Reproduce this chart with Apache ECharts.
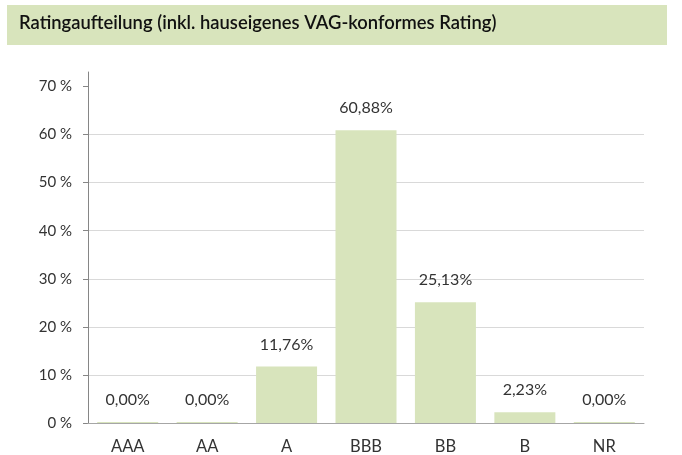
<!DOCTYPE html>
<html>
<head>
<meta charset="utf-8">
<script src="https://cdn.jsdelivr.net/npm/echarts@6/dist/echarts.min.js"></script>
<style>
  html, body { margin: 0; padding: 0; background: #ffffff; }
  #chart { width: 682px; height: 455px; }
</style>
</head>
<body>
<div id="chart"></div>
<script>
// Rating categories and their share of the portfolio (percent)
const categories = ['AAA', 'AA', 'A', 'BBB', 'BB', 'B', 'NR'];
const shares = [0.00, 0.00, 11.76, 60.88, 25.13, 2.23, 0.00];
const yTicks = [0, 10, 20, 30, 40, 50, 60, 70];
const titleText = 'Ratingaufteilung (inkl. hauseigenes VAG-konformes Rating)';

const FONT = 'Lato, "Open Sans", sans-serif';
const GREEN = '#d8e4bc';

const chart = echarts.init(document.getElementById('chart'), null, { renderer: 'canvas' });

chart.setOption({
  backgroundColor: '#ffffff',
  animation: false,
  graphic: [
    {
      type: 'rect',
      left: 7, top: 5,
      shape: { width: 660, height: 40 },
      style: { fill: GREEN },
      z: 0
    },
    {
      type: 'text',
      left: 19, top: 14,
      style: {
        text: titleText,
        font: '600 18.4px ' + FONT,
        fill: '#111111'
      },
      z: 1
    }
  ],
  grid: { left: 88, right: 38, top: 72, bottom: 31, containLabel: false },
  xAxis: {
    type: 'category',
    data: categories,
    axisLine: { show: true, lineStyle: { color: '#a6a6a6', width: 1 } },
    axisTick: { show: false },
    axisLabel: { color: '#333333', fontFamily: FONT, fontSize: 16.5, margin: 15 },
    z: 3
  },
  yAxis: {
    type: 'value',
    min: 0,
    max: 73,
    interval: 10,
    axisLine: { show: true, lineStyle: { color: '#868686', width: 1 } },
    axisTick: { show: true, length: 5, customValues: yTicks, lineStyle: { color: '#868686' } },
    axisLabel: {
      customValues: yTicks,
      color: '#333333',
      fontFamily: FONT,
      fontSize: 15,
      margin: 16,
      formatter: v => v + ' %'
    },
    splitLine: { show: true, showMaxLine: false, lineStyle: { color: '#d9d9d9', width: 1 } }
  },
  series: [
    {
      type: 'bar',
      data: shares,
      barWidth: 61,
      barMinHeight: 1,
      itemStyle: { color: GREEN },
      label: {
        show: true,
        position: 'top',
        distance: 14,
        color: '#333333',
        fontFamily: FONT,
        fontSize: 16,
        formatter: p => p.value.toFixed(2).replace('.', ',') + '%'
      }
    }
  ]
});
</script>
</body>
</html>
